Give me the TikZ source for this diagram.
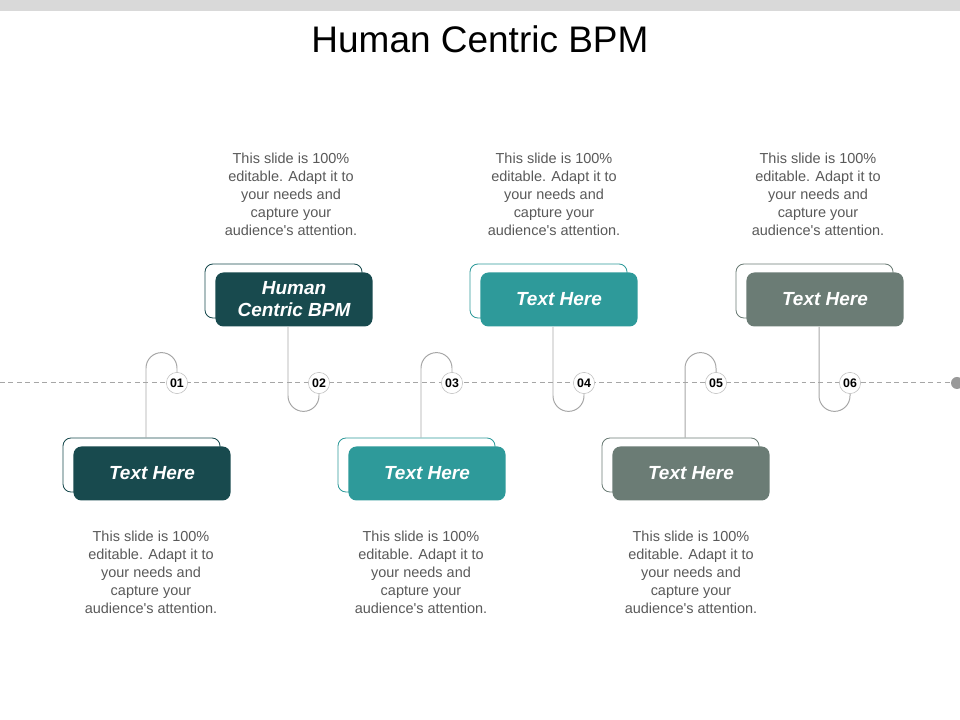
\documentclass[tikz,border=0pt]{standalone}
\usepackage{fontspec}
\setmainfont{Liberation Sans}
\usetikzlibrary{calc}

\begin{document}
\begin{tikzpicture}[x=0.025cm,y=0.025cm]
\definecolor{tealdark}{HTML}{184A4E}
\definecolor{tealmid}{HTML}{2E9A9A}
\definecolor{sage}{HTML}{6B7C75}
\definecolor{notegray}{HTML}{595959}
\colorlet{linegray}{black!35}
\tikzstyle{link}=[draw=linegray,line width=0.7pt]
\tikzset{
card/.style={fill=#1,rounded corners=0.2cm,minimum width=3.925cm,minimum height=1.35cm,
  text=white,inner sep=0,align=center,font=\fontsize{13.5}{15.6}\selectfont\bfseries\itshape},
cardback/.style={draw=#1,fill=white,line width=0.6pt,rounded corners=0.2cm,
  minimum width=3.925cm,minimum height=1.35cm},
num/.style={circle,draw=black!25,fill=white,minimum size=0.53cm,inner sep=0,
  font=\fontsize{8.8}{9}\selectfont\bfseries},
note/.style={align=center,text=notegray,font=\fontsize{10.3}{12.8}\selectfont},
}
\def\notetext{This slide is 100\%\\editable. Adapt it to\\your needs and\\capture your\\audience\textquotesingle s attention.}
\useasboundingbox (0,0) rectangle (960,720);

% HEADER
\fill[black!15] (0,709) rectangle (960,720);
\node[anchor=base,font=\fontsize{26.3}{30}\selectfont] (title) at (480,667) {Human Centric BPM};

% TIME LINE
\node[circle,fill=black!40,minimum size=0.3cm,inner sep=0] (lineend) at (957,337) {};
\draw[linegray,line width=0.7pt,dash pattern=on 3.5pt off 2.5pt] (0,337) -- (lineend);

% LOWER CARDS
\foreach \i/\cx/\nx/\col in {1/177/151/tealdark, 3/452/421/tealmid, 5/716/691/sage}{
  \node[num] (num\i) at (\cx,337) {0\i};
  \node[cardback=\col] (shade\i) at (\cx-35.5,255) {};
  \node[card=\col] (box\i) at (\cx-25,246.5) {Text Here};
  \node[note] (note\i) at (\nx,147.5) {\notetext};
  \draw[link] (num\i.north) -- ++(0,4) arc[start angle=0,end angle=180,radius=15.5]
    coordinate (bend\i) -- (bend\i |- shade\i.north);
}

% UPPER CARDS
\foreach \i/\cx/\nx/\col/\lab in {2/319/291/tealdark/{Human\\Centric BPM}, 4/584/554/tealmid/Text Here, 6/850/818/sage/Text Here}{
  \node[num] (num\i) at (\cx,337) {0\i};
  \node[cardback=\col] (shade\i) at (\cx-35.5,429) {};
  \node[card=\col] (box\i) at (\cx-25,420.5) {\lab};
  \node[note] (note\i) at (\nx,526) {\notetext};
  \draw[link] (num\i.south) -- ++(0,-2) arc[start angle=0,end angle=-180,radius=15.5]
    coordinate (bend\i) -- (bend\i |- box\i.south);
}

\end{tikzpicture}
\end{document}
